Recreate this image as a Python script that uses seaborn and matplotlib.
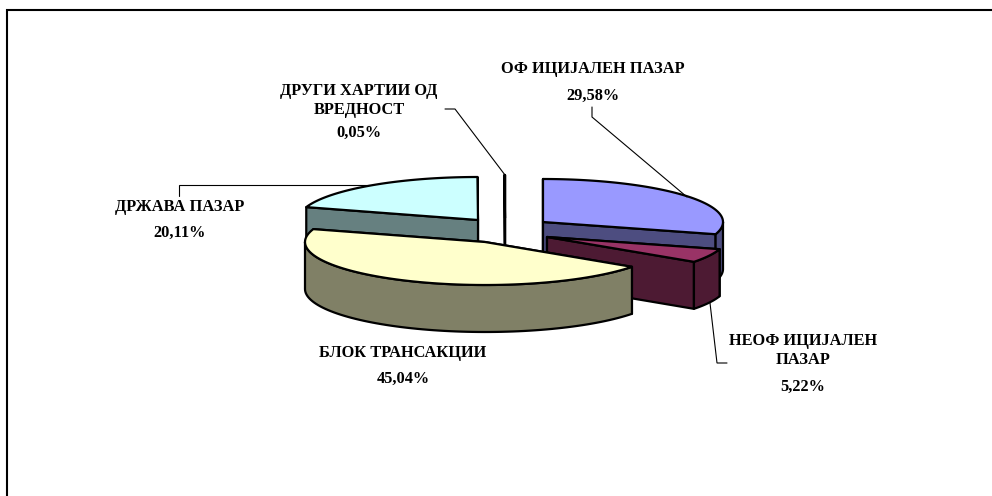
import numpy as np
import matplotlib
matplotlib.use("Agg")
import matplotlib.pyplot as plt
from matplotlib.patches import Polygon
import seaborn as sns

# market shares, clockwise from 12 o'clock, in %
categories = ["ОФ ИЦИЈАЛЕН ПАЗАР", "НЕОФ ИЦИЈАЛЕН\nПАЗАР", "БЛОК ТРАНСАКЦИИ",
              "ДРЖАВА ПАЗАР", "ДРУГИ ХАРТИИ ОД\nВРЕДНОСТ"]
shares = [29.58, 5.22, 45.04, 20.11, 0.05]
share_labels = ["29,58%", "5,22%", "45,04%", "20,11%", "0,05%"]

top_colors = sns.color_palette(["#9999FF", "#993366", "#FFFFCC", "#CCFFFF", "#FFFFFF"])
wall_colors = sns.color_palette(["#4D4D80", "#4D1A33", "#808066", "#668080", "#808080"])

# where each exploded slice sits on the page (pixels)
centers = [(543, 222), (547, 237), (485, 242), (478, 220), (505, 218)]
RX, RY, DEPTH = 180, 43, 47
draw_order = [4, 0, 3, 1, 2]

sns.set_theme(style="white")
plt.rcParams["font.family"] = ["Liberation Serif", "DejaVu Serif"]

fig, ax = plt.subplots(figsize=(9.92, 4.96), dpi=100)
ax.set_position([0, 0, 1, 1])
ax.set_xlim(0, 992)
ax.set_ylim(496, 0)
ax.axis("off")


def ring(cx, cy, a, b):
    t = np.radians(np.linspace(a, b, 80))
    return np.column_stack([cx + RX * np.sin(t), cy - RY * np.cos(t)])


def face(pts, color):
    ax.add_patch(Polygon(pts, closed=True, facecolor=color, edgecolor="black",
                         lw=1.6, joinstyle="round"))


ends = np.cumsum(shares) / 100 * 360
starts = np.r_[0, ends[:-1]]

for i in draw_order:
    cx, cy = centers[i]
    a, b = starts[i], ends[i]
    down = np.array([0, DEPTH])
    # radial walls, the one further back first
    edge_a = ring(cx, cy, a, a)[0]
    edge_b = ring(cx, cy, b, b)[0]
    for edge in sorted([edge_a, edge_b], key=lambda p: p[1]):
        face([(cx, cy), edge, edge + down, (cx, cy + DEPTH)], wall_colors[i])
    # outer wall, only the part facing the viewer
    lo, hi = max(a, 90), min(b, 270)
    if lo < hi:
        arc = ring(cx, cy, lo, hi)
        face(np.vstack([arc, (arc + down)[::-1]]), wall_colors[i])
    # top
    face(np.vstack([[(cx, cy)], ring(cx, cy, a, b)]), top_colors[i])

# leader lines
leaders = [
    ([592, 592, 687], [107, 117, 197]),
    ([710, 717, 727], [303, 363, 363]),
    ([179, 179, 370], [196, 185, 185]),
    ([445, 455, 505], [109, 109, 175]),
]
for xs, ys in leaders:
    ax.plot(xs, ys, color="black", lw=0.8, solid_joinstyle="miter")

# labels
label_pos = [(593, 69, 96), (803, 350.5, 387), (403, 353, 379), (180, 207, 233), (359, 100.5, 133)]
for name, pct, (x, y_name, y_pct) in zip(categories, share_labels, label_pos):
    ax.text(x, y_name, name, ha="center", va="center", fontsize=11.8, fontweight="bold",
            color="black", linespacing=1.2)
    ax.text(x, y_pct, pct, ha="center", va="center", fontsize=11.8, fontweight="bold",
            color="black")

# chart area border
ax.plot([7, 7, 992], [496, 9.5, 9.5], color="black", lw=1.5, solid_joinstyle="miter")

fig.savefig("out.png", dpi=100)
